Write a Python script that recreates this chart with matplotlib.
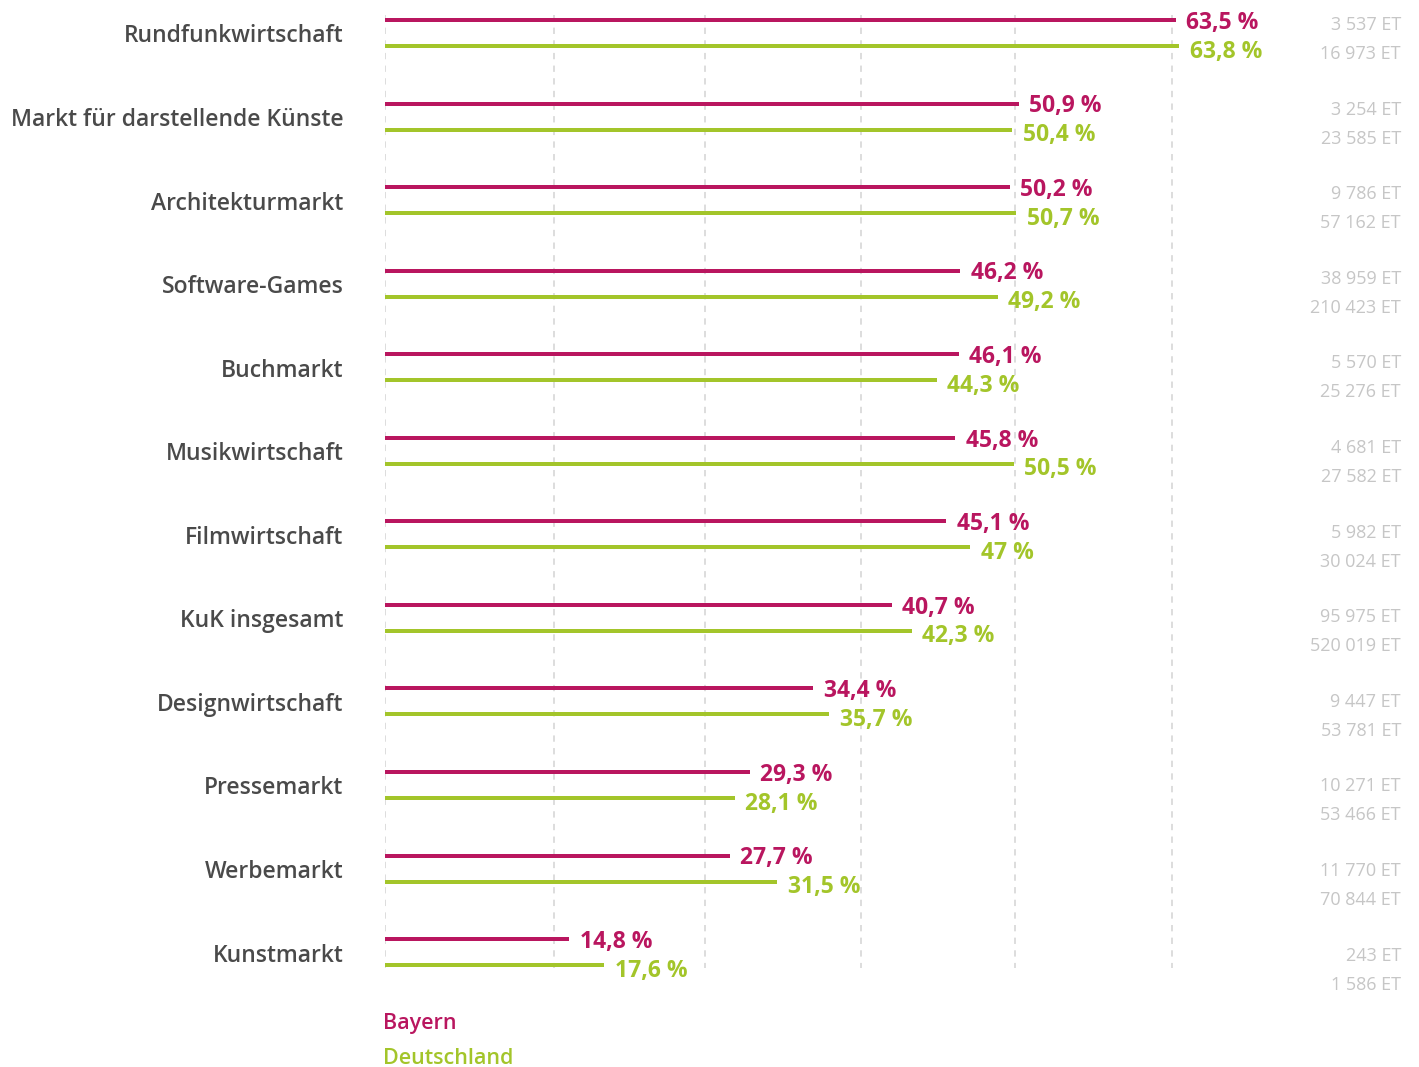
import matplotlib.pyplot as plt
import numpy as np

# data
categories = ["Rundfunkwirtschaft", "Markt für darstellende Künste", "Architekturmarkt",
              "Software-Games", "Buchmarkt", "Musikwirtschaft", "Filmwirtschaft",
              "KuK insgesamt", "Designwirtschaft", "Pressemarkt", "Werbemarkt", "Kunstmarkt"]
bayern = [63.5, 50.9, 50.2, 46.2, 46.1, 45.8, 45.1, 40.7, 34.4, 29.3, 27.7, 14.8]
deutschland = [63.8, 50.4, 50.7, 49.2, 44.3, 50.5, 47, 42.3, 35.7, 28.1, 31.5, 17.6]
et_bayern = ["3 537", "3 254", "9 786", "38 959", "5 570", "4 681", "5 982",
             "95 975", "9 447", "10 271", "11 770", "243"]
et_deutschland = ["16 973", "23 585", "57 162", "210 423", "25 276", "27 582", "30 024",
                  "520 019", "53 781", "53 466", "70 844", "1 586"]
grid_x = [0, 13.6, 25.7, 38.2, 50.6, 63.2]

MAGENTA = "#b9165f"
GREEN = "#a3c52a"
DARK = "#4a4a4a"
LIGHT = "#c6c6c6"

plt.rcParams['font.family'] = ['Open Sans', 'DejaVu Sans']

W, H = 1419, 1067
fig = plt.figure(figsize=(W / 100, H / 100), dpi=100)
ax = fig.add_axes([385 / W, 0, 996 / W, 1])
ax.set_xlim(0, 80)
step = 83.55
ax.set_ylim((H - 33) / step, -33 / step)
ax.axis("off")

y = np.arange(len(categories))
off = 13 / step

for gx in grid_x:
    ax.plot([gx, gx], [-18 / step, (968 - 33) / step], color="#dadada", lw=1.3,
            ls=(0, (3.5, 3.5)), zorder=0)

ax.barh(y - off, bayern, height=4 / step, color=MAGENTA, zorder=2)
ax.barh(y + off, deutschland, height=4 / step, color=GREEN, zorder=2)

for i, cat in enumerate(categories):
    ax.annotate(cat, xy=(0, i), xytext=(-30, -2.5), textcoords="offset points",
                ha="right", va="center", fontsize=16.5, fontweight="semibold", color=DARK)
    ax.annotate(f"{bayern[i]:g} %".replace(".", ","), xy=(bayern[i], i - off),
                xytext=(7.5, -2), textcoords="offset points", ha="left", va="center",
                fontsize=16.5, fontweight="bold", color=MAGENTA)
    ax.annotate(f"{deutschland[i]:g} %".replace(".", ","), xy=(deutschland[i], i + off),
                xytext=(7.5, -4), textcoords="offset points", ha="left", va="center",
                fontsize=16.5, fontweight="bold", color=GREEN)

# ET column
et_step = 84.6
for i in range(len(categories)):
    yb = (25 + i * et_step - 33) / step
    yd = (54 + i * et_step - 33) / step
    xr = (1401 - 385) / 12.45
    ax.text(xr, yb, et_bayern[i] + " ET", ha="right", va="center", fontsize=13,
            color=LIGHT)
    ax.text(xr, yd, et_deutschland[i] + " ET", ha="right", va="center", fontsize=13,
            color=LIGHT)

# legend
fig.text(383 / W, 1 - 1024 / H, "Bayern", ha="left", va="center", fontsize=15.5,
         fontweight="semibold", color=MAGENTA)
fig.text(383 / W, 1 - 1059 / H, "Deutschland", ha="left", va="center", fontsize=15.5,
         fontweight="semibold", color=GREEN)

fig.savefig("out.png", dpi=100)
